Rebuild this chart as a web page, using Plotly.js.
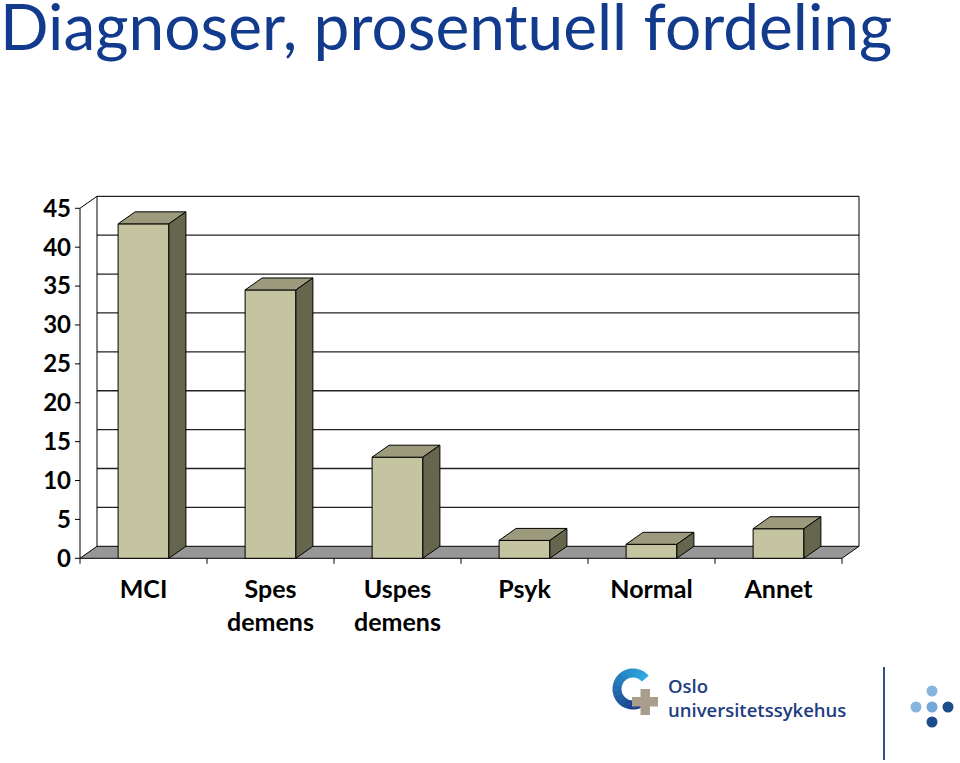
<!DOCTYPE html>
<html>
<head>
<meta charset="utf-8">
<script src="https://cdn.plot.ly/plotly-3.0.1.min.js"></script>
<style>html,body{margin:0;padding:0;background:#fff;}#chart{width:960px;height:763px;}</style>
</head>
<body>
<div id="chart"></div>
<script>
// ---- data ----
const categories = ['MCI', 'Spes<br>demens', 'Uspes<br>demens', 'Psyk', 'Normal', 'Annet'];
const values = [43.0, 34.5, 13.0, 2.3, 1.8, 3.8];
const yTicks = [0, 5, 10, 15, 20, 25, 30, 35, 40, 45];
const titleText = 'Diagnoser, prosentuell fordeling';

// ---- geometry (styling, not data) ----
const PX_PER_CAT = 127, PX_PER_UNIT = 7.778;
const depthX = 17 / PX_PER_CAT, depthY = 12 / PX_PER_UNIT, halfW = 0.2;
const idx = categories.map((c, i) => i);
const xMin = -0.5 - 6 / PX_PER_CAT, xMax = xMin + 786 / PX_PER_CAT;
const yMin = -6.7 / PX_PER_UNIT, yMax = yMin + 371 / PX_PER_UNIT;
const xL = -0.5, xR = categories.length - 0.5, yTop = yTicks[yTicks.length - 1];

const front = '#C5C4A1', topC = '#9B9A7D', sideC = '#66664F';

const shapes = [];
const line = (x0, y0, x1, y1, w, c) => shapes.push({type: 'line', xref: 'x', yref: 'y', x0, y0, x1, y1, layer: 'below', line: {color: c || '#000', width: w || 1}});
// floor
shapes.push({type: 'path', xref: 'x', yref: 'y', layer: 'below',
  path: `M${xL},0 L${xR},0 L${xR + depthX},${depthY} L${xL + depthX},${depthY} Z`,
  fillcolor: '#979797', line: {color: '#000', width: 1}});
// back wall gridlines
yTicks.forEach(v => { if (v > 0) line(xL + depthX, v + depthY, xR + depthX, v + depthY, 1.3, '#222'); });
// back wall edges
line(xL + depthX, depthY, xL + depthX, yTop + depthY);
line(xR + depthX, depthY, xR + depthX, yTop + depthY);
// side wall top diagonal and front axis
line(xL, yTop, xL + depthX, yTop + depthY);
line(xL, 0, xL, yTop);
// y ticks
yTicks.forEach(v => line(xL - 5 / PX_PER_CAT, v, xL, v));
// x ticks at category boundaries
for (let k = 0; k <= categories.length; k++) line(xL + k, 0, xL + k, -5.5 / PX_PER_UNIT);

// ---- traces ----
const traces = [{
  type: 'bar', x: idx, y: values, width: 2 * halfW,
  marker: {color: front, line: {color: '#000', width: 1}},
  hoverinfo: 'skip'
}];
idx.forEach((i, n) => {
  const v = values[n];
  traces.push({type: 'scatter', mode: 'lines', fill: 'toself', fillcolor: topC,
    x: [i - halfW, i + halfW, i + halfW + depthX, i - halfW + depthX, i - halfW],
    y: [v, v, v + depthY, v + depthY, v],
    line: {color: '#000', width: 1}, hoverinfo: 'skip'});
  traces.push({type: 'scatter', mode: 'lines', fill: 'toself', fillcolor: sideC,
    x: [i + halfW, i + halfW + depthX, i + halfW + depthX, i + halfW, i + halfW],
    y: [0, depthY, v + depthY, v, 0],
    line: {color: '#000', width: 1}, hoverinfo: 'skip'});
});

// ---- logo (paper coordinates from pixel positions) ----
const PL = 74, PT = 194, PW = 786, PH = 371;
const px = x => (x - PL) / PW, py = y => (PT + PH - y) / PH;
const annotations = [];
// arc segments with gradient
const cx = 633, cy = 689, rO = 20.5, rI = 11.5;
const a0 = 40, a1 = 292, nSeg = 14;
const c1 = [43, 168, 222], c2 = [27, 60, 140];
for (let s = 0; s < nSeg; s++) {
  const sa = a0 + (a1 - a0) * s / nSeg, ea = a0 + (a1 - a0) * (s + 1.08) / nSeg;
  const pts = [];
  for (let k = 0; k <= 4; k++) { const a = (sa + (ea - sa) * k / 4) * Math.PI / 180; pts.push([cx + rO * Math.cos(a), cy - rO * Math.sin(a)]); }
  for (let k = 4; k >= 0; k--) { const a = (sa + (ea - sa) * k / 4) * Math.PI / 180; pts.push([cx + rI * Math.cos(a), cy - rI * Math.sin(a)]); }
  const t = s / (nSeg - 1);
  const col = `rgb(${c1.map((c, j) => Math.round(c + (c2[j] - c) * t)).join(',')})`;
  shapes.push({type: 'path', xref: 'paper', yref: 'paper', line: {width: 0}, fillcolor: col,
    path: 'M' + pts.map(p => px(p[0]).toFixed(5) + ',' + py(p[1]).toFixed(5)).join(' L') + ' Z'});
}
// cross
shapes.push({type: 'rect', xref: 'paper', yref: 'paper', x0: px(632), x1: px(658), y0: py(706.5), y1: py(697), fillcolor: '#A89E8B', line: {width: 0}});
shapes.push({type: 'rect', xref: 'paper', yref: 'paper', x0: px(640.5), x1: px(650), y0: py(715), y1: py(689), fillcolor: '#A89E8B', line: {width: 0}});
// divider
shapes.push({type: 'line', xref: 'paper', yref: 'paper', x0: px(884), x1: px(884), y0: py(667), y1: py(760), line: {color: '#2F4F8C', width: 2}});
// dots
const dots = [[932, 691, '#86B5DE'], [916, 707, '#86B5DE'], [932, 707, '#74A8D8'], [948, 707, '#1B4D8C'], [932, 722, '#1B4D8C']];
dots.forEach(d => shapes.push({type: 'circle', xref: 'paper', yref: 'paper', x0: px(d[0] - 5.5), x1: px(d[0] + 5.5), y0: py(d[1] + 5.5), y1: py(d[1] - 5.5), fillcolor: d[2], line: {width: 0}}));
annotations.push({xref: 'paper', yref: 'paper', x: px(666), y: py(697), xanchor: 'left', yanchor: 'middle', showarrow: false, align: 'left',
  text: 'Oslo<br>universitetssykehus', font: {family: 'Open Sans', size: 18.5, color: '#1E3D80', weight: 600}});

const layout = {
  width: 960, height: 763,
  margin: {l: PL, r: 960 - PL - PW, t: PT, b: 763 - PT - PH, pad: 0},
  paper_bgcolor: '#fff', plot_bgcolor: 'rgba(0,0,0,0)',
  showlegend: false, hovermode: false,
  title: {text: titleText, xref: 'container', x: 0.0, xanchor: 'left', yref: 'container', y: 1.0, yanchor: 'top',
    pad: {t: 5, l: 0}, font: {family: 'Lato', size: 64, color: '#123B8E'}},
  xaxis: {range: [xMin, xMax], showgrid: false, zeroline: false, showline: false, ticks: '',
    tickvals: idx, ticktext: categories, ticklabelstandoff: 7,
    tickfont: {family: 'Lato', size: 25, color: '#000', weight: 'bold'}, fixedrange: true},
  yaxis: {range: [yMin, yMax], showgrid: false, zeroline: false, showline: false, ticks: '',
    tickvals: yTicks, ticklabelstandoff: 2,
    tickfont: {family: 'Lato', size: 24, color: '#000', weight: 'bold'}, fixedrange: true},
  bargap: 0,
  shapes, annotations
};
Plotly.newPlot('chart', traces, layout, {staticPlot: true, displayModeBar: false});
</script>
</body>
</html>
